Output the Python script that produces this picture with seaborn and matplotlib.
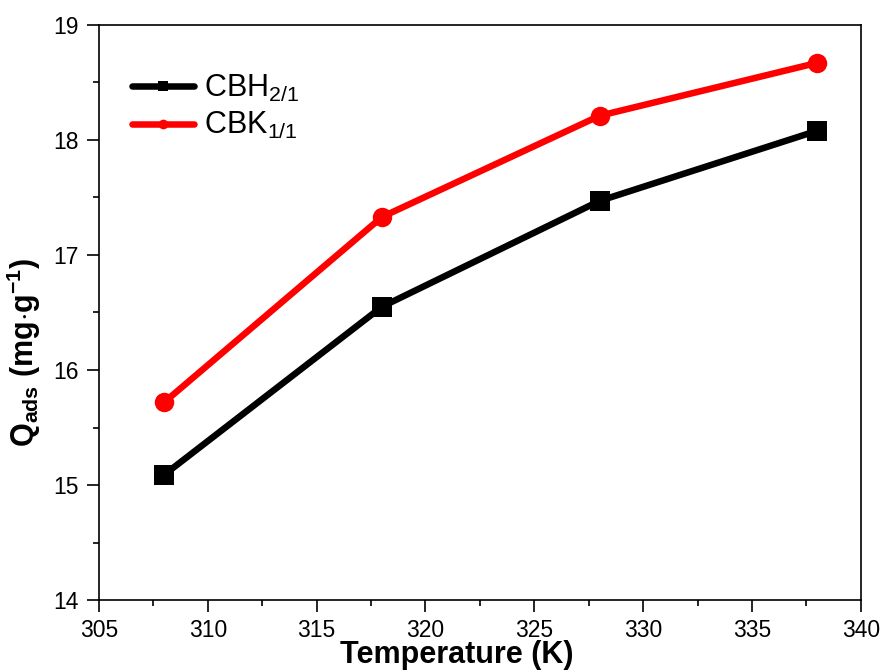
import matplotlib
matplotlib.use("Agg")
import matplotlib.pyplot as plt
import seaborn as sns
import pandas as pd
from matplotlib.ticker import MultipleLocator

temperature = [308, 318, 328, 338]
cbh = [15.09, 16.55, 17.47, 18.08]
cbk = [15.72, 17.33, 18.21, 18.67]
series_names = [r"CBH$_{2/1}$", r"CBK$_{1/1}$"]

sns.set_style("ticks")
plt.rcParams['font.family'] = ['Liberation Sans', 'DejaVu Sans']
plt.rcParams['mathtext.fontset'] = 'custom'
plt.rcParams['mathtext.rm'] = 'Liberation Sans'
plt.rcParams['mathtext.it'] = 'Liberation Sans'
plt.rcParams['mathtext.bf'] = 'Liberation Sans:bold'
plt.rcParams['text.color'] = 'black'
plt.rcParams['axes.labelcolor'] = 'black'
plt.rcParams['xtick.color'] = 'black'
plt.rcParams['ytick.color'] = 'black'
plt.rcParams['axes.edgecolor'] = 'black'

df = pd.DataFrame({
    "T": temperature * 2,
    "Q": cbh + cbk,
    "series": [series_names[0]] * 4 + [series_names[1]] * 4,
})

fig = plt.figure(figsize=(8.82, 6.72), dpi=100)
ax = fig.add_axes([0.1122, 0.107, 0.8638, 0.856])

sns.lineplot(data=df, x="T", y="Q", hue="series", style="series",
             palette=["black", "red"], markers=["s", "o"], dashes=False,
             linewidth=4.7, markersize=14, markeredgewidth=0, ax=ax)

ax.set_xlim(305, 340)
ax.set_ylim(14, 19)
ax.xaxis.set_major_locator(MultipleLocator(5))
ax.xaxis.set_minor_locator(MultipleLocator(2.5))
ax.yaxis.set_major_locator(MultipleLocator(1))
ax.yaxis.set_minor_locator(MultipleLocator(0.5))
ax.tick_params(which="major", direction="out", length=8.5, width=1.2, labelsize=16.5)
ax.tick_params(axis="y", which="major", pad=6)
ax.tick_params(axis="x", which="major", pad=5)
ax.tick_params(which="minor", direction="out", length=4, width=1.2)
for s in ax.spines.values():
    s.set_linewidth(1.2)
    s.set_visible(True)

ax.set_xlabel("Temperature (K)", fontsize=22, fontweight="bold")
ax.xaxis.set_label_coords(0.47, -0.07)
ax.set_ylabel(r"$\mathbf{Q_{ads}}$ $\mathbf{(mg{\cdot}g^{-1})}$", fontsize=22)
ax.yaxis.set_label_coords(-0.073, 0.43)

leg = ax.legend(loc="upper left", bbox_to_anchor=(0.043, 0.916), frameon=False,
                fontsize=22, markerscale=0.5, handlelength=2.05, labelspacing=0.2,
                handletextpad=0.3, borderaxespad=0, borderpad=0, title=None)

fig.savefig("out.png", dpi=100)
